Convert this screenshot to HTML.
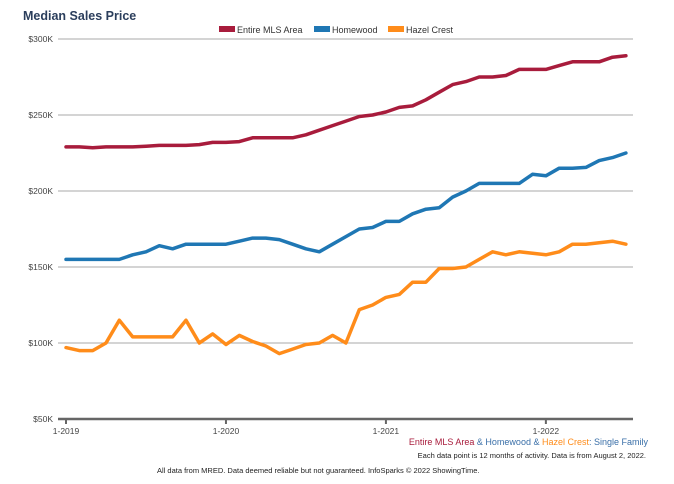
<!DOCTYPE html>
<html><head><meta charset="utf-8"><style>
body{margin:0;background:#fff;font-family:"Liberation Sans",Arial,sans-serif}
svg{display:block}
</style></head><body>
<svg width="674" height="484" viewBox="0 0 674 484" xmlns="http://www.w3.org/2000/svg" font-family="Liberation Sans, Arial, sans-serif">
<text x="23" y="20" font-size="12.5" font-weight="bold" fill="#2b3e5c">Median Sales Price</text>
<g font-size="9" fill="#333">
<rect x="219" y="26" width="16" height="6" fill="#a81c3c"/>
<text x="237" y="33">Entire MLS Area</text>
<rect x="314" y="26" width="16" height="6" fill="#1f77b4"/>
<text x="332" y="33">Homewood</text>
<rect x="388" y="26" width="16" height="6" fill="#ff8c1a"/>
<text x="406" y="33">Hazel Crest</text>
</g>
<g id="grid"></g>
<g id="series"></g>
<g id="xaxis"></g>
<text x="648" y="445" font-size="9" text-anchor="end"><tspan fill="#a81c3c">Entire MLS Area</tspan><tspan fill="#3a6fa8"> &amp; Homewood &amp; </tspan><tspan fill="#ff8c1a">Hazel Crest</tspan><tspan fill="#3a6fa8">: Single Family</tspan></text>
<text x="646" y="458" font-size="7.5" text-anchor="end" fill="#222">Each data point is 12 months of activity. Data is from August 2, 2022.</text>
<text x="157" y="473" font-size="7.5" fill="#222">All data from MRED. Data deemed reliable but not guaranteed. InfoSparks © 2022 ShowingTime.</text>
</svg>
<script>
const yTicks=[50,100,150,200,250,300];
const yTickLabels=["$50K","$100K","$150K","$200K","$250K","$300K"];
const xTickMonths=[0,12,24,36];
const xTickLabels=["1-2019","1-2020","1-2021","1-2022"];
const mlsValues=[229,229,228.5,229,229,229,229.5,230,230,230,230.5,232,232,232.5,235,235,235,235,237,240,243,246,249,250,252,255,256,260,265,270,272,275,275,276,280,280,280,282.5,285,285,285,288,289];
const homewoodValues=[155,155,155,155,155,158,160,164,162,165,165,165,165,167,169,169,168,165,162,160,165,170,175,176,180,180,185,188,189,196,200,205,205,205,205,211,210,215,215,215.5,220,222,225];
const hazelValues=[97,95,95,100,115,104,104,104,104,115,100,106,99,105,101,98,93,96,99,100,105,100,122,125,130,132,140,140,149,149,150,155,160,158,160,159,158,160,165,165,166,167,165];
const NS='http://www.w3.org/2000/svg';
const x0=66,pxPerMonth=13.33,yBase=419,pxPerK=1.52,xL=58,xR=633;
const X=m=>x0+m*pxPerMonth;
const Y=v=>yBase-(v-50)*pxPerK;
const grid=document.getElementById('grid');
yTicks.forEach((t,i)=>{
 if(t>50){const l=document.createElementNS(NS,'line');
 
 
 l.setAttribute('x1',xL);l.setAttribute('x2',xR);l.setAttribute('y1',Y(t));l.setAttribute('y2',Y(t));
 l.setAttribute('stroke','#aaa');l.setAttribute('stroke-width','1');grid.appendChild(l);}
 const tx=document.createElementNS(NS,'text');
 
 
 tx.setAttribute('x',53);tx.setAttribute('y',Y(t)+3);tx.setAttribute('text-anchor','end');
 tx.setAttribute('font-size','8.5');tx.setAttribute('fill','#444');tx.textContent=yTickLabels[i];grid.appendChild(tx);
});
const series=document.getElementById('series');
[[mlsValues,'#a81c3c','line-entire-mls-area'],[homewoodValues,'#1f77b4','line-homewood'],[hazelValues,'#ff8c1a','line-hazel-crest']].forEach(([vals,c,n])=>{
 const p=document.createElementNS(NS,'polyline');
 
 
 p.setAttribute('points',vals.map((v,i)=>X(i).toFixed(1)+','+Y(v).toFixed(1)).join(' '));
 p.setAttribute('fill','none');p.setAttribute('stroke',c);p.setAttribute('stroke-width','3.5');p.setAttribute('stroke-linejoin','round');p.setAttribute('stroke-linecap','round');
 series.appendChild(p);
});
const xa=document.getElementById('xaxis');
const ax=document.createElementNS(NS,'line');


ax.setAttribute('x1',xL);ax.setAttribute('x2',xR);ax.setAttribute('y1',yBase);ax.setAttribute('y2',yBase);
ax.setAttribute('stroke','#666');ax.setAttribute('stroke-width','2.5');xa.appendChild(ax);
xTickMonths.forEach((m,i)=>{
 const t=document.createElementNS(NS,'line');
 
 
 t.setAttribute('x1',X(m));t.setAttribute('x2',X(m));t.setAttribute('y1',yBase);t.setAttribute('y2',yBase+5);
 t.setAttribute('stroke','#666');t.setAttribute('stroke-width','2');xa.appendChild(t);
 const tx=document.createElementNS(NS,'text');
 
 
 tx.setAttribute('x',X(m));tx.setAttribute('y',yBase+15);tx.setAttribute('text-anchor','middle');
 tx.setAttribute('font-size','8.5');tx.setAttribute('fill','#444');tx.textContent=xTickLabels[i];xa.appendChild(tx);
});
</script>
</body></html>
